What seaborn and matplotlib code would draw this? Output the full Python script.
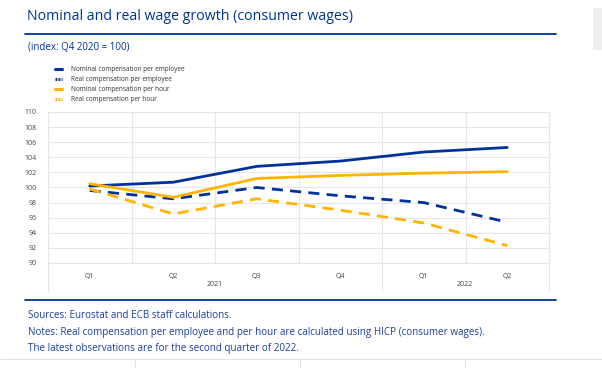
import seaborn as sns
import matplotlib.pyplot as plt
import matplotlib.lines as mlines
import pandas as pd

# quarters Q1 2021 .. Q2 2022
quarters = ["Q1", "Q2", "Q3", "Q4", "Q1", "Q2"]
years = ["2021", "2022"]
nominal_emp = [100.2, 100.7, 102.8, 103.5, 104.7, 105.3]
real_emp = [99.6, 98.5, 100.0, 98.9, 98.0, 95.4]
nominal_hour = [100.5, 98.7, 101.2, 101.6, 101.9, 102.1]
real_hour = [99.8, 96.5, 98.5, 97.0, 95.3, 92.3]

series = {
    "Nominal compensation per employee": nominal_emp,
    "Real compensation per employee": real_emp,
    "Nominal compensation per hour": nominal_hour,
    "Real compensation per hour": real_hour,
}

blue = "#003299"
orange = "#ffb400"
colors = [blue, blue, orange, orange]
solid = [True, False, True, False]

rows = []
for name, vals in series.items():
    for i, v in enumerate(vals):
        rows.append({"series": name, "x": i, "value": v})
df = pd.DataFrame(rows)

sns.set_style("white")
plt.rcParams["font.family"] = ["Open Sans", "DejaVu Sans"]

fig = plt.figure(figsize=(6.02, 3.68), dpi=100)
ax = fig.add_axes([48 / 602, 1 - 263 / 368, 501 / 602, 151 / 368])

for (name, _), c, s in zip(series.items(), colors, solid):
    sub = df[df["series"] == name]
    sns.lineplot(data=sub, x="x", y="value", ax=ax, color=c, lw=2.0,
                 linestyle="-" if s else (0, (4, 2.6)), legend=False)

ax.set_xlim(-0.5, 5.5)
ax.set_ylim(90, 110)
ax.set_yticks(range(90, 111, 2))
ax.set_xticks(range(6))
ax.set_xticklabels(quarters)
ax.set_xticks([i - 0.5 for i in range(7)], minor=True)
ax.tick_params(axis="both", which="both", length=0, labelsize=5, colors="#444444")
ax.tick_params(axis="x", pad=7)
ax.tick_params(axis="y", pad=8)
ax.grid(True, axis="y", color="#e6e6e6", lw=0.8)
ax.grid(True, axis="x", which="minor", color="#e6e6e6", lw=0.8)
ax.set_xlabel("")
ax.set_ylabel("")
for sp in ax.spines.values():
    sp.set_color("#e6e6e6")
    sp.set_linewidth(0.8)
ax.set_axisbelow(True)

# year group labels and separators
for xpix in [48, 382, 549]:
    fig.add_artist(mlines.Line2D([xpix / 602] * 2, [1 - 263 / 368, 1 - 291 / 368],
                                 color="#e6e6e6", lw=0.8))
fig.text(215 / 602, 1 - 285 / 368, years[0], ha="center", va="center", fontsize=5, color="#444444")
fig.text(465 / 602, 1 - 285 / 368, years[1], ha="center", va="center", fontsize=5, color="#444444")

# title, subtitle, rules
fig.text(27 / 602, 1 - 17 / 368, "Nominal and real wage growth (consumer wages)",
         fontsize=10.2, color=blue, va="center")
fig.add_artist(mlines.Line2D([25 / 602, 556 / 602], [1 - 33.5 / 368] * 2, color=blue, lw=1.3))
fig.text(28 / 602, 1 - 47 / 368, "(index: Q4 2020 = 100)", fontsize=7, color=blue, va="center")
fig.add_artist(mlines.Line2D([25 / 602, 556 / 602], [1 - 300 / 368] * 2, color=blue, lw=1.3))

# legend
handles = [mlines.Line2D([], [], color=c, lw=2.2, linestyle="-" if s else (0, (0.6, 0.4)))
           for c, s in zip(colors, solid)]
fig.legend(handles, list(series.keys()), loc="upper left",
           bbox_to_anchor=(52 / 602, 1 - 63 / 368), frameon=False, fontsize=4.7,
           handlelength=1.1, handletextpad=1.3, labelspacing=0.45, borderpad=0,
           labelcolor="#333333")

# notes
notes = ["Sources: Eurostat and ECB staff calculations.",
         "Notes: Real compensation per employee and per hour are calculated using HICP (consumer wages).",
         "The latest observations are for the second quarter of 2022."]
for i, t in enumerate(notes):
    fig.text(28 / 602, 1 - (316 + 16.5 * i) / 368, t, fontsize=7.1, color="#1f3f9f", va="center")

# page fragments around the chart
fig.add_artist(mlines.Line2D([0, 1], [1 - 359 / 368] * 2, color="#e3e3e3", lw=0.8))
for xpix in [135, 300, 465]:
    fig.add_artist(mlines.Line2D([xpix / 602] * 2, [1 - 359 / 368, 0], color="#e3e3e3", lw=0.8))
fig.add_artist(plt.Rectangle((593 / 602, 1 - 50 / 368), 9 / 602, 42 / 368,
                             transform=fig.transFigure, color="#efefef", lw=0))

fig.savefig("out.png", dpi=100)
